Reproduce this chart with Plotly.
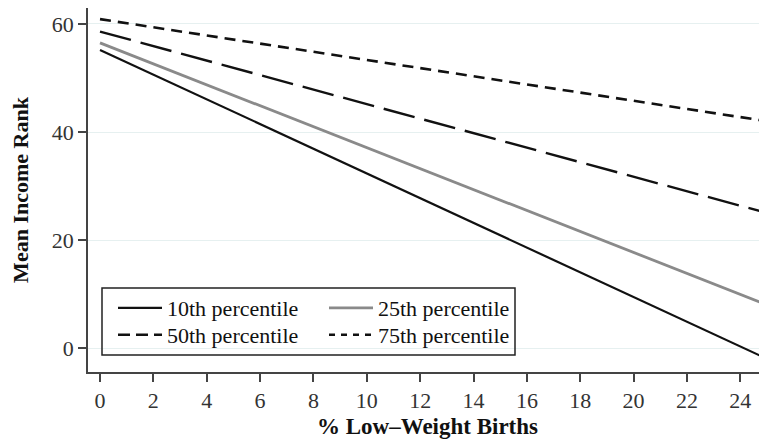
import plotly.graph_objects as go

# Data
x_vals = [0, 25]
p10 = [55.2, -2.0]
p25 = [56.5, 8.0]
p50 = [58.6, 25.0]
p75 = [60.9, 42.0]

series_names = ["10th percentile", "25th percentile", "50th percentile", "75th percentile"]
x_ticks = list(range(0, 25, 2))
y_ticks = [0, 20, 40, 60]

FONT = "Liberation Serif, Times New Roman, serif"

fig = go.Figure()
# (values, line style in plot, dash used in legend sample, legend id)
styles = [
    (p10, dict(color="#111111", width=2.2, dash="solid"), "solid", "legend"),
    (p25, dict(color="#8a8a8a", width=2.8, dash="solid"), "solid", "legend3"),
    (p50, dict(color="#111111", width=2.4, dash="32px,10px"), "12px,6px", "legend2"),
    (p75, dict(color="#111111", width=2.6, dash="11px,7px"), "6px,6px", "legend4"),
]
for (vals, line, ldash, lg), name in zip(styles, series_names):
    fig.add_trace(go.Scatter(x=x_vals, y=vals, mode="lines", name=name,
                             line=line, showlegend=False, hoverinfo="skip"))
    # legend proxy with a legend-friendly dash pattern
    fig.add_trace(go.Scatter(x=[None], y=[None], mode="lines", name=name,
                             line=dict(color=line["color"], width=line["width"], dash=ldash),
                             legend=lg, showlegend=True, hoverinfo="skip"))

# page body has an 8px margin; figure sized/offset to compensate
OFF = 8
L, R, T, B = 80, 0, 0, 73
W, H = 759, 437
pw = W - L - R
ph = H - T - B

def px_x(p):
    return (p - OFF - L) / pw

def px_y(p):
    return (H - B - (p - OFF)) / ph

leg_common = dict(xanchor="left", yanchor="middle", bgcolor="rgba(0,0,0,0)",
                  borderwidth=0, font=dict(family=FONT, size=22, color="#111111"),
                  itemwidth=44)
col1 = px_x(113)
col2 = px_x(324)
row1 = px_y(308)
row2 = px_y(335)

fig.update_layout(
    template="none",
    width=W, height=H,
    margin=dict(l=L, r=R, t=T, b=B),
    paper_bgcolor="white", plot_bgcolor="white",
    font=dict(family=FONT, size=22, color="#333333"),
    showlegend=True,
    legend=dict(x=col1, y=row1, **leg_common),
    legend2=dict(x=col1, y=row2, **leg_common),
    legend3=dict(x=col2, y=row1, **leg_common),
    legend4=dict(x=col2, y=row2, **leg_common),
    shapes=[dict(type="rect", xref="paper", yref="paper",
                 x0=px_x(102), x1=px_x(515), y0=px_y(355), y1=px_y(288),
                 line=dict(color="#222222", width=1.5), fillcolor="rgba(0,0,0,0)")],
)

fig.update_xaxes(
    automargin=False,
    range=[-0.45, 25.0], tickvals=x_ticks, ticktext=[str(v) for v in x_ticks],
    showgrid=False, zeroline=False, showline=True, linecolor="#444444", linewidth=1.5,
    ticks="outside", ticklen=8, tickcolor="#444444", tickwidth=1.5,
    tickfont=dict(family=FONT, size=22, color="#333333"),
    title=dict(text="<b>% Low\u2013Weight Births</b>",
               font=dict(family=FONT, size=23, color="#111111"), standoff=6),
)
fig.update_yaxes(
    automargin=False,
    range=[-4.44, 62.96], tickvals=y_ticks, ticktext=[str(v) for v in y_ticks],
    showgrid=True, gridcolor="#e6f0f0", gridwidth=1.2, zeroline=False,
    showline=True, linecolor="#444444", linewidth=1.5,
    ticks="outside", ticklen=8, tickcolor="#444444", tickwidth=1.5,
    tickfont=dict(family=FONT, size=22, color="#333333"),
    title=dict(text="<b>Mean Income Rank</b>",
               font=dict(family=FONT, size=22, color="#111111"), standoff=20),
)

fig.write_html("out.html")
